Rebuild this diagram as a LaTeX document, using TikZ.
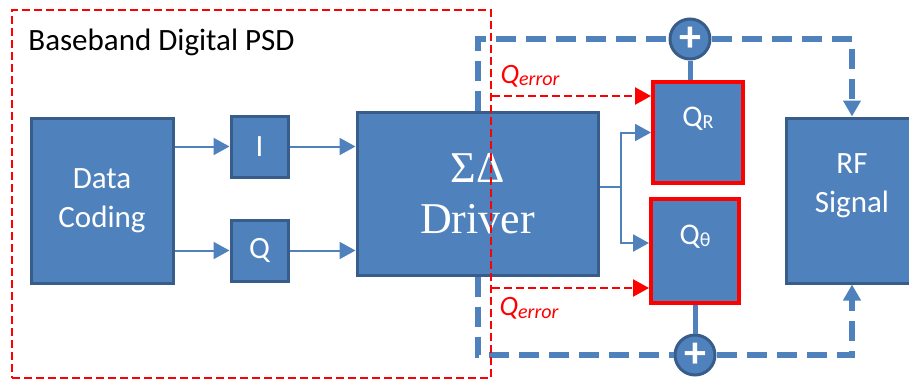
\documentclass[tikz,border=0pt]{standalone}
\usepackage{fontspec}
\setmainfont{Carlito}
\newfontfamily\driverfont{Liberation Serif}
\usepackage{tikz}
\usetikzlibrary{arrows.meta, positioning, calc}
\definecolor{blockblue}{HTML}{4F81BD}
\definecolor{blockedge}{HTML}{385D8A}
\definecolor{errred}{HTML}{FF0000}

\begin{document}
\begin{tikzpicture}[
    x=0.5pt, y=-0.5pt,
    block/.style={
        draw=blockedge,
        fill=blockblue,
        line width=1.5pt,
        text=white,
        align=center,
        inner sep=0pt,
        font=\fontsize{15.5}{19.5}\selectfont},
    qblock/.style={
        block,
        draw=errred,
        line width=2pt,
        text height=10pt,
        text depth=16.5pt,
        font=\fontsize{15}{17}\selectfont},
    sumnode/.style={
        circle,
        draw=blockedge,
        fill=blockblue,
        line width=1.5pt,
        minimum size=20pt,
        inner sep=0pt,
        text=white,
        font=\fontsize{22}{22}\selectfont\bfseries},
    thinline/.style={draw=blockblue, line width=1pt},
    fbline/.style={draw=blockblue, line width=3pt, dash pattern=on 10pt off 5pt},
    errline/.style={draw=errred, line width=1.25pt, dash pattern=on 4pt off 2pt},
    >={Triangle[length=8pt, width=8.5pt]}]
    \useasboundingbox (0,0) rectangle (909,380);

    \node[block, minimum width=71pt, minimum height=82.5pt] (coding) at (102,200.5) {Data\\Coding};
    \node[block, minimum width=28.5pt, minimum height=30.5pt] (inph) at (259.5,146.5) {I};
    \node[block, minimum width=28.5pt, minimum height=30.5pt, below=20pt of inph] (quad) {Q};
    \node[block, minimum width=120.5pt, minimum height=81.5pt,
        font=\driverfont\fontsize{22}{25.5}\selectfont] (driver) at (477.5,193.5) {ΣΔ\\Driver};
    \node[qblock, minimum width=45pt, minimum height=50.5pt] (qr) at (698,132.5)
        {Q\raisebox{-1pt}{\fontsize{10}{10}\selectfont R}};
    \node[qblock, minimum width=44pt, minimum height=52pt] (qt) at (695,251)
        {Q\raisebox{-1pt}{\fontsize{10}{10}\selectfont θ}};
    \node[block, minimum width=66pt, minimum height=82.5pt, text depth=17.5pt] (rf) at (852,200.5) {RF\\Signal};
    \node[sumnode] (sumtop) at (690,39) {+};
    \node[sumnode] (sumbot) at (695,355) {+};
    \coordinate (split) at (621,187);

    \draw[thinline, ->] (coding.east |- inph) -- (inph);
    \draw[thinline, ->] (coding.east |- quad) -- (quad);
    \draw[thinline, ->] (inph.east) -- (inph.east -| driver.west);
    \draw[thinline, ->] (quad.east) -- (quad.east -| driver.west);
    \draw[thinline] (driver.east |- split) -- (split);
    \draw[thinline, ->] (split) |- (qr);
    \draw[thinline, ->] (split) |- ($(qt.west)+(0,-8)$);

    \draw[blockblue, line width=2.5pt] (qr.north -| sumtop) -- (sumtop);
    \draw[blockblue, line width=2.5pt] (qt.south -| sumbot) -- (sumbot);
    \draw[fbline] (driver.north) |- (sumtop);
    \draw[fbline, ->] (sumtop) -| (rf.north);
    \draw[fbline] (driver.south) |- (sumbot);
    \draw[fbline, ->] (sumbot) -| (rf.south);

    \node[errline, minimum width=239.5pt, minimum height=184pt] (psd) at (251.5,194) {};
    \node[anchor=base west, inner sep=0pt, font=\fontsize{15.5}{19.5}\selectfont] (psdname) at (28,50) {Baseband Digital PSD};

    \begin{scope}[
        every node/.style={
            anchor=base west,
            inner sep=0pt,
            text=errred,
            font=\fontsize{14}{16}\selectfont\itshape}]
        \draw[errline, ->] (psd.east |- 0,96) -- (qr.west |- 0,96)
            node[at start, xshift=3.5pt, yshift=6.5pt] {Q\raisebox{-1.5pt}{\fontsize{10}{10}\selectfont error}};
        \draw[errline, ->] (psd.east |- 0,288) -- (qt.west |- 0,288)
            node[at start, xshift=3pt, yshift=-13.5pt] {Q\raisebox{-1.5pt}{\fontsize{10}{10}\selectfont error}};
    \end{scope}
\end{tikzpicture}
\end{document}
